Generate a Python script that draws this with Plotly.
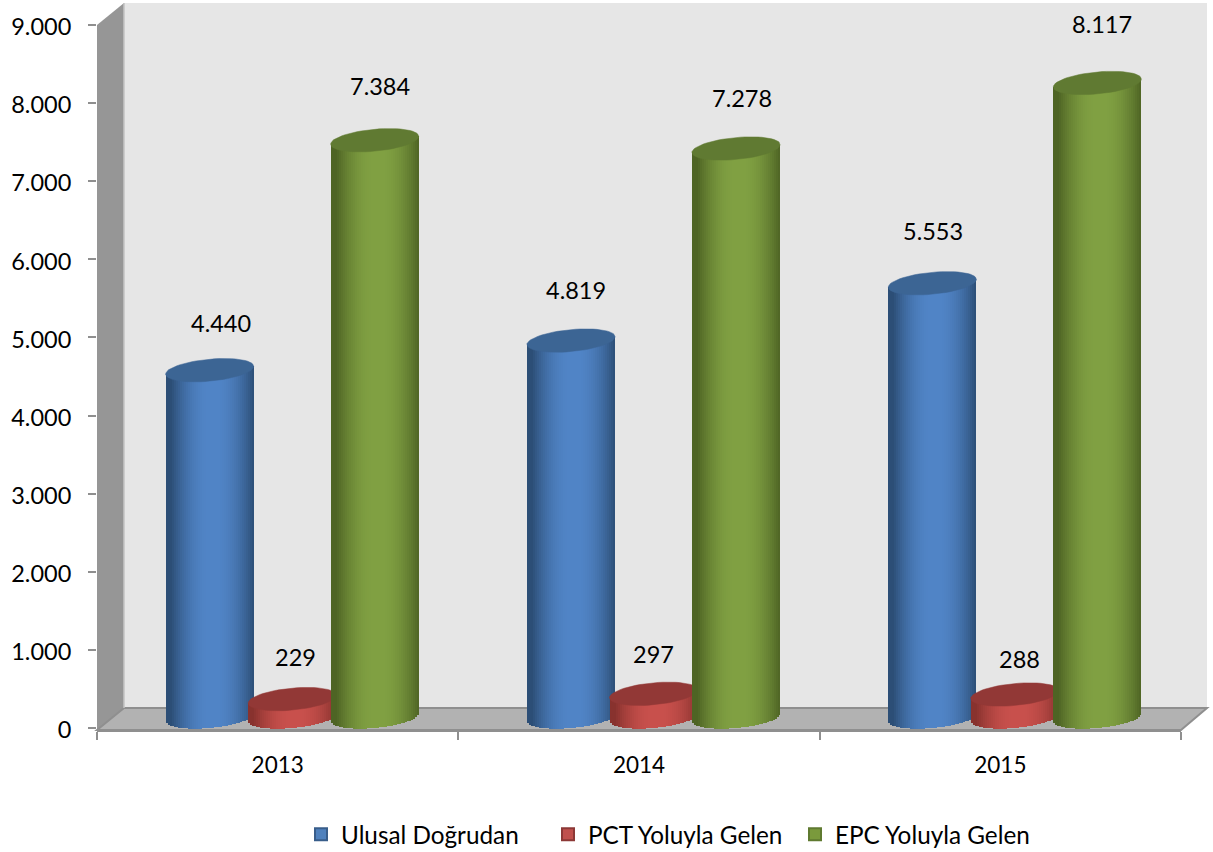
import math
import plotly.graph_objects as go

years = ["2013", "2014", "2015"]
series_names = ["Ulusal Doğrudan", "PCT Yoluyla Gelen", "EPC Yoluyla Gelen"]
ulusal = [4440, 4819, 5553]
pct = [229, 297, 288]
epc = [7384, 7278, 8117]
y_ticks = [0, 1000, 2000, 3000, 4000, 5000, 6000, 7000, 8000, 9000]

# style / layout
W, H = 1213, 852
L, R, T, B = 97, 1181, 25, 730
PX_X = (R - L) / 3
PX_Y = 703 / 9000
FONT = "Lato"
centers = [(80, 132, 198), (200, 80, 76), (128, 160, 66)]
edges = [(44, 78, 118), (136, 50, 46), (78, 100, 36)]
caps = ["#3c6594", "#923836", "#607a32"]
legend_cols = ["#4f81bd", "#c0504d", "#7a9a3c"]
legend_lines = ["#385d8a", "#8c3836", "#5f7a30"]
ser_off = [-68, 14.5, 97]
A, BB, S = 44, 11, 0.09
STEP = 2
lab_dx = [[11, 5, 1], [3, 0, 5], [5, 6, 5]]
lab_dy = [[47, 51, 52], [42, 40, 36], [54, 51, 59]]


def px(x):
    return (x - L) / (R - L)


def py(y):
    return (B - y) / (B - T)


def poly(points, fill, line=None, lw=0):
    d = "M" + " L".join(f"{px(a):.5f},{py(b):.5f}" for a, b in points) + " Z"
    return dict(type="path", xref="paper", yref="paper", path=d, fillcolor=fill,
                line=dict(color=line or fill, width=lw), layer="below")


fig = go.Figure()
shapes = [
    poly([(124, 3), (1207, 3), (1207, 708), (124, 708)], "#e6e6e6"),
    poly([(97, 25), (124, 3), (124, 708), (97, 730)], "#969696"),
    poly([(97, 730), (124, 708), (1207, 708), (1181, 730)], "#b2b2b2", "#8f8f8f", 2),
    poly([(124, 3), (124, 708)], "#c4c4c4", "#c4c4c4", 1),
]


def shade(i, t):
    # t in -1..1 across the cylinder, light in the centre, dark at both edges
    k = min(1.0, abs(t - 0.06) / 0.94)
    k = max(0.0, (k - 0.1) / 0.9) ** 1.9
    return "rgb(%d,%d,%d)" % tuple(round(c + (e - c) * k) for c, e in zip(centers[i], edges[i]))


# carries the y axis with the tick labels
fig.add_trace(go.Scatter(x=[0, 1, 2], y=[0, 0, 0], mode="markers", marker=dict(opacity=0),
                         showlegend=False, hoverinfo="skip"))

all_values = [ulusal, pct, epc]
for i, vals in enumerate(all_values):
    yname = f"y{i + 2}"
    # series trace with the real values (carries the legend entry)
    fig.add_trace(go.Bar(
        x=[0, 1, 2], y=vals, name=series_names[i], yaxis=yname,
        width=60 / PX_X, offset=(ser_off[i] - 30) / PX_X,
        marker=dict(color=legend_cols[i], line=dict(color=legend_lines[i], width=2)),
    ))
    # shaded cylinder body made of narrow bars
    d = -A
    while d < A:
        mid = d + STEP / 2
        low = S * mid - BB * math.sqrt(max(0, 1 - (mid / A) ** 2))
        bases = [low / PX_Y for _ in vals]
        tops = [v + S * mid / PX_Y for v in vals]
        w = STEP + (0.6 if d + STEP < A else 0)
        fig.add_trace(go.Bar(
            x=[0, 1, 2], y=[t - b for t, b in zip(tops, bases)], base=bases,
            yaxis=yname, width=w / PX_X, offset=(ser_off[i] + d) / PX_X,
            marker=dict(color=shade(i, mid / A), line=dict(width=0)),
            showlegend=False, hoverinfo="skip",
        ))
        d += STEP
    # elliptical caps
    n = 60
    for c, v in enumerate(vals):
        xs, ys = [], []
        for k in range(n + 1):
            a = 2 * math.pi * k / n
            dx = A * math.cos(a)
            xs.append(c + (ser_off[i] + dx) / PX_X)
            ys.append(v + (S * dx + BB * math.sin(a)) / PX_Y)
        fig.add_trace(go.Scatter(
            x=xs, y=ys, yaxis=yname, mode="lines", fill="toself", fillcolor=caps[i],
            line=dict(color=caps[i], width=0.5), showlegend=False, hoverinfo="skip",
        ))

annotations = []
for i, vals in enumerate(all_values):
    for c, v in enumerate(vals):
        annotations.append(dict(
            x=c + ser_off[i] / PX_X, y=v, xref="x", yref=f"y{i + 2}",
            text=f"{v:,}".replace(",", "."), showarrow=False,
            xshift=lab_dx[i][c], yshift=lab_dy[i][c],
            font=dict(family=FONT, size=23.5, color="#000000"),
        ))

shift_low = -(B - 717) / PX_Y
shift_high = shift_low + (B - T) / PX_Y
ov = dict(overlaying="y", range=[shift_low, shift_high], visible=False, fixedrange=True)

fig.update_layout(
    width=W, height=H, autosize=False,
    margin=dict(l=L, r=W - R, t=T, b=H - B, pad=0, autoexpand=False),
    paper_bgcolor="#ffffff", plot_bgcolor="rgba(0,0,0,0)",
    separators=",.", barmode="overlay", bargap=0,
    shapes=shapes, annotations=annotations,
    font=dict(family=FONT, size=21, color="#000000"),
    xaxis=dict(
        range=[-0.5, 2.5], tickvals=[0, 1, 2], ticktext=years, ticks="", showgrid=False,
        zeroline=False, showline=True, linecolor="#8f8f8f", linewidth=2,
        tickfont=dict(family=FONT, size=22.5), ticklabelstandoff=14, automargin=False,
        minor=dict(tickvals=[-0.5, 0.5, 1.5, 2.5], ticks="outside", ticklen=8,
                   tickcolor="#8f8f8f", tickwidth=2, showgrid=False),
    ),
    yaxis=dict(
        range=[-(B - 728) / PX_Y, 9000], tickvals=y_ticks, tickformat=",d",
        ticks="outside", ticklen=8, tickcolor="#8f8f8f", tickwidth=2,
        showgrid=False, zeroline=False, showline=False, automargin=False,
        tickfont=dict(family=FONT, size=23.5), ticklabelstandoff=12, ticklabelshift=2,
    ),
    yaxis2=ov, yaxis3=ov, yaxis4=ov,
    legend=dict(orientation="h", xref="paper", x=(301 - L) / (R - L), xanchor="left",
                yref="container", y=(H - 812) / H, yanchor="top",
                font=dict(family=FONT, size=24.3), entrywidth=202, entrywidthmode="pixels",
                bgcolor="rgba(0,0,0,0)"),
)

fig.write_html("out.html", config=dict(displayModeBar=False),
               post_script="document.body.style.margin='0';document.body.style.overflow='hidden';")
